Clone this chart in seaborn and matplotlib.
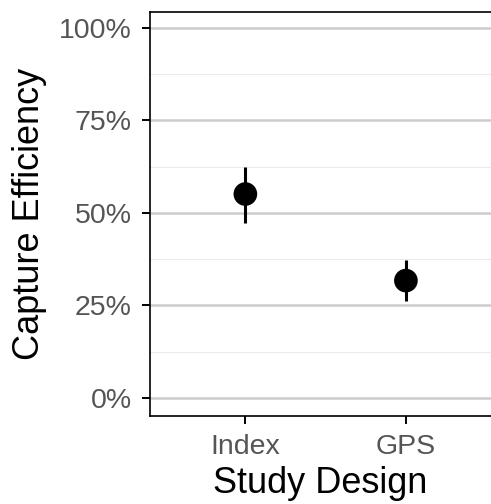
import matplotlib
matplotlib.use("Agg")
import matplotlib.pyplot as plt
import seaborn as sns
import numpy as np
from matplotlib.ticker import MultipleLocator, PercentFormatter

# summary values
designs = ["Index", "GPS"]
means = [55.1, 31.7]
lower = [47.4, 26.2]
upper = [62.5, 37.3]

sns.set_theme(style="white")
plt.rcParams['font.family'] = ['Liberation Sans', 'DejaVu Sans']

fig = plt.figure(figsize=(4.91, 5.04), dpi=100)
ax = fig.add_axes([150 / 491, 88 / 504, 341 / 491, 404 / 504])

# grid first so it sits under the marks
ax.set_axisbelow(True)
ax.yaxis.set_major_locator(MultipleLocator(25))
ax.yaxis.set_minor_locator(MultipleLocator(12.5))
ax.grid(axis="y", which="major", color="#CCCCCC", linewidth=1.8)
ax.grid(axis="y", which="minor", color="#EBEBEB", linewidth=0.8)

ax.vlines(designs, lower, upper, color="black", linewidth=2.2, zorder=3)
sns.scatterplot(x=designs, y=means, ax=ax, color="black", s=290,
                edgecolor="none", zorder=4, legend=False)

ax.set_ylim(-4.9, 104.3)
ax.set_xlim(-0.594, 1.53)
ax.yaxis.set_major_formatter(PercentFormatter(decimals=0))

for side in ["left", "top", "bottom"]:
    ax.spines[side].set_visible(True)
    ax.spines[side].set_color("black")
    ax.spines[side].set_linewidth(1.2)
ax.spines["right"].set_visible(False)

ax.tick_params(axis="both", which="major", length=6, width=1.4, color="black",
               labelsize=20.5, labelcolor="#555555", pad=7,
               left=True, bottom=True)
ax.tick_params(axis="y", which="minor", length=0)

ax.set_xlabel("Study Design", fontsize=26, color="black", labelpad=4)
ax.set_ylabel("Capture Efficiency", fontsize=26, color="black", labelpad=9)

fig.savefig("out.png", dpi=100)
